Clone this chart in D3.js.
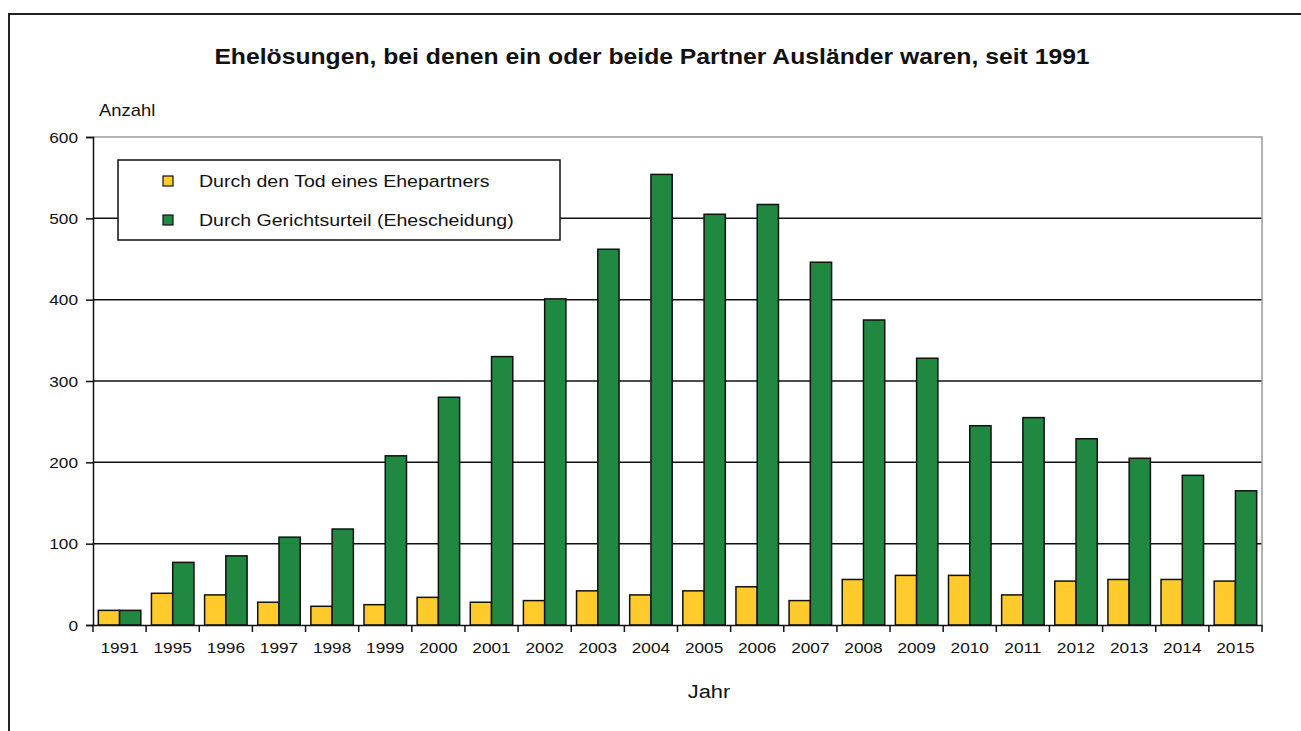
<!DOCTYPE html>
<html>
<head>
<meta charset="utf-8">
<script src="https://cdn.jsdelivr.net/npm/d3@7"></script>
<style>
  body { margin: 0; background: #fff; }
  svg text { font-family: Arial, "Liberation Sans", sans-serif; fill: #111; }
</style>
</head>
<body>
<div id="chart"></div>
<script>
// Daten
const years = ["1991", "1995", "1996", "1997", "1998", "1999", "2000", "2001", "2002", "2003", "2004",
    "2005", "2006", "2007", "2008", "2009", "2010", "2011", "2012", "2013", "2014", "2015"];
const tod = [18, 39, 37, 28, 23, 25, 34, 28, 30, 42, 37, 42, 47, 30, 56, 61, 61, 37, 54, 56, 56, 54];
const gericht = [18, 77, 85, 108, 118, 208, 280, 330, 401, 462, 554, 505, 517, 446, 375, 328, 245, 255, 229, 205, 184, 165];
const seriesNames = ["Durch den Tod eines Ehepartners", "Durch Gerichtsurteil (Ehescheidung)"];
const seriesColors = ["#ffca2b", "#218842"];
const yTicks = [0, 100, 200, 300, 400, 500, 600];

const W = 1301, H = 731;
const sx = 1.15; // Schrift ist im Original etwas breit gezogen
const margin = { top: 137, right: 39, bottom: 106, left: 93 };

const svg = d3.select("#chart").append("svg")
    .attr("width", W)
    .attr("height", H);

// Rahmen
svg.append("rect")
    .attr("x", 9).attr("y", 14)
    .attr("width", W + 20).attr("height", H + 20)
    .attr("fill", "none")
    .attr("stroke", "#222")
    .attr("stroke-width", 2);

function stretchedText(g, x, y, txt, size, anchor, weight) {
    return g.append("text")
        .attr("transform", `translate(${x},${y}) scale(${sx},1)`)
        .attr("text-anchor", anchor || "start")
        .style("font-size", size + "px")
        .style("font-weight", weight || "normal")
        .text(txt);
}

stretchedText(svg, 652, 64, "Ehelösungen, bei denen ein oder beide Partner Ausländer waren, seit 1991", 21.5, "middle", "bold");
stretchedText(svg, 99, 116, "Anzahl", 16, "start");

const x0 = d3.scaleBand()
    .domain(years)
    .range([margin.left, W - margin.right])
    .paddingInner(0)
    .paddingOuter(0);

const x1 = d3.scaleBand()
    .domain([0, 1])
    .range([0, x0.bandwidth()])
    .paddingOuter(0.25)
    .paddingInner(0);

const y = d3.scaleLinear()
    .domain([0, 600])
    .range([H - margin.bottom, margin.top]);

// Gitternetz
svg.append("g").selectAll("line")
    .data(yTicks.filter(d => d > 0 && d < 600))
    .enter()
    .append("line")
    .attr("x1", margin.left).attr("x2", W - margin.right)
    .attr("y1", d => y(d)).attr("y2", d => y(d))
    .attr("stroke", "#111")
    .attr("stroke-width", 1.5);

// Zeichnungsfläche oben / rechts grau
svg.append("path")
    .attr("d", `M${margin.left},${y(600)}H${W - margin.right}V${y(0)}`)
    .attr("fill", "none")
    .attr("stroke", "#999")
    .attr("stroke-width", 1.5);

// Balken
const groups = svg.append("g").selectAll("g")
    .data(years)
    .enter()
    .append("g")
    .attr("transform", d => `translate(${x0(d)},0)`);

groups.selectAll("rect")
    .data((d, i) => [tod[i], gericht[i]].map((v, k) => ({ k: k, v: v })))
    .enter()
    .append("rect")
    .attr("x", d => x1(d.k))
    .attr("y", d => y(d.v))
    .attr("width", x1.bandwidth())
    .attr("height", d => y(0) - y(d.v))
    .attr("fill", d => seriesColors[d.k])
    .attr("stroke", "#111")
    .attr("stroke-width", 1.5);

// Y-Achse
const yAxis = svg.append("g")
    .attr("transform", `translate(${margin.left},0)`)
    .call(d3.axisLeft(y).tickValues(yTicks).tickSize(7).tickPadding(0));
yAxis.select(".domain").attr("stroke", "#111").attr("stroke-width", 1.5);
yAxis.selectAll(".tick line").attr("stroke", "#111").attr("stroke-width", 1.5);
yAxis.selectAll(".tick text")
    .attr("x", 0).attr("dy", null)
    .attr("transform", `translate(-15,5) scale(${sx},1)`)
    .style("font-size", "15px")
    .style("font-family", "Arial, 'Liberation Sans', sans-serif")
    .attr("fill", "#111");

// X-Achse
const xAxis = svg.append("g")
    .attr("transform", `translate(0,${y(0)})`)
    .call(d3.axisBottom(x0).tickSize(0).tickPadding(0));
xAxis.select(".domain").attr("stroke", "#111").attr("stroke-width", 1.5);
xAxis.selectAll(".tick text")
    .attr("y", 0).attr("dy", null)
    .attr("transform", `translate(0,28) scale(${sx},1)`)
    .style("font-size", "15px")
    .style("font-family", "Arial, 'Liberation Sans', sans-serif")
    .attr("fill", "#111");

// Teilstriche zwischen den Kategorien
xAxis.append("g").selectAll("line")
    .data(years.concat(["end"]))
    .enter()
    .append("line")
    .attr("x1", (d, i) => margin.left + i * x0.step())
    .attr("x2", (d, i) => margin.left + i * x0.step())
    .attr("y1", 0).attr("y2", 7)
    .attr("stroke", "#111")
    .attr("stroke-width", 1.5);

stretchedText(svg, 709, 698, "Jahr", 19, "middle");

// Legende
const legend = svg.append("g");
legend.append("rect")
    .attr("x", 118).attr("y", 160)
    .attr("width", 442).attr("height", 80)
    .attr("fill", "#fff")
    .attr("stroke", "#111")
    .attr("stroke-width", 1.5);

seriesNames.forEach((name, i) => {
    const cy = 181 + i * 39;
    legend.append("rect")
        .attr("x", 163).attr("y", cy - 5)
        .attr("width", 10).attr("height", 10)
        .attr("fill", seriesColors[i])
        .attr("stroke", "#111")
        .attr("stroke-width", 1.2);
    stretchedText(legend, 199, cy + 6, name, 17, "start");
});
</script>
</body>
</html>
